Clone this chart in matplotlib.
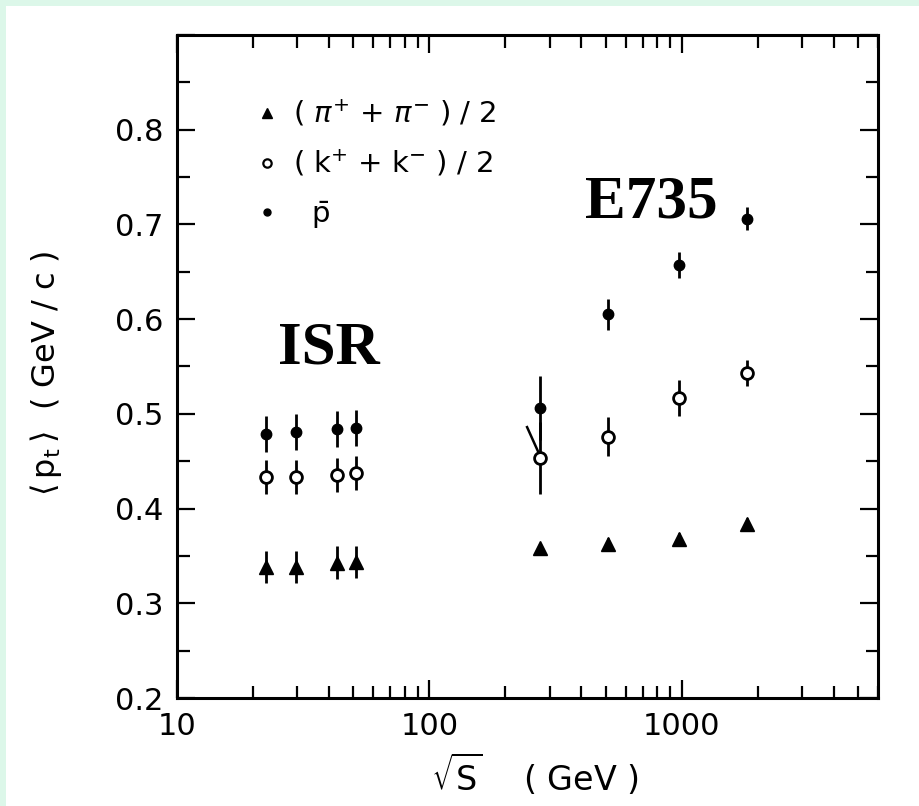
import matplotlib
matplotlib.use("Agg")
import matplotlib.pyplot as plt
from matplotlib.patches import Rectangle
from matplotlib.ticker import LogLocator, FixedLocator, NullFormatter, FixedFormatter, MultipleLocator

plt.rcParams['mathtext.fontset'] = 'dejavusans'

# sqrt(s) in GeV: ISR energies then E735 (Tevatron) energies
roots_isr = [22.5, 29.5, 43.0, 51.0]
roots_e735 = [275.0, 510.0, 975.0, 1820.0]

# <pt> in GeV/c with errors
pi_isr = [0.338, 0.338, 0.343, 0.344]
pi_isr_err = [0.017, 0.017, 0.017, 0.017]
k_isr = [0.433, 0.433, 0.435, 0.438]
k_isr_err = [0.018, 0.018, 0.018, 0.018]
pbar_isr = [0.479, 0.481, 0.484, 0.485]
pbar_isr_err = [0.019, 0.019, 0.019, 0.019]

pi_e735 = [0.358, 0.363, 0.368, 0.384]
pi_e735_err = [0.006, 0.006, 0.006, 0.006]
k_e735 = [0.453, 0.476, 0.517, 0.543]
k_e735_err = [0.038, 0.021, 0.019, 0.014]
pbar_e735 = [0.506, 0.605, 0.657, 0.706]
pbar_e735_err = [0.034, 0.016, 0.014, 0.012]

# stray slanted stroke on the 300 GeV kaon error bar
slash_x = [244.0, 270.0]
slash_y = [0.486, 0.460]

W, H = 919, 806
fig = plt.figure(figsize=(W / 100, H / 100), dpi=100, facecolor='#dcf7e9')
fig.patches.append(Rectangle((6 / W, 0), 1, 1 - 6 / H, transform=fig.transFigure,
                             facecolor='white', edgecolor='none', zorder=-10))

ax = fig.add_axes([177 / W, 1 - 698 / H, 701 / W, 663 / H])
ax.set_facecolor('white')

xs = roots_isr + roots_e735
ebkw = dict(fmt='none', ecolor='black', elinewidth=2.0, capsize=0, zorder=2)
ax.errorbar(xs, pi_isr + pi_e735, yerr=pi_isr_err + pi_e735_err, **ebkw)
ax.errorbar(xs, k_isr + k_e735, yerr=k_isr_err + k_e735_err, **ebkw)
ax.errorbar(xs, pbar_isr + pbar_e735, yerr=pbar_isr_err + pbar_e735_err, **ebkw)

ax.plot(xs, pi_isr + pi_e735, '^', color='black', ms=10, zorder=3)
ax.plot(xs, k_isr + k_e735, 'o', mfc='white', mec='black', mew=2.0, ms=8.5, zorder=3)
ax.plot(xs, pbar_isr + pbar_e735, 'o', color='black', ms=7.5, zorder=3)
ax.plot(slash_x, slash_y, color='black', lw=1.8, zorder=2)

ax.set_xscale('log')
ax.set_xlim(10, 6000)
ax.set_ylim(0.2, 0.9)

ax.xaxis.set_major_locator(FixedLocator([10, 100, 1000]))
ax.xaxis.set_major_formatter(FixedFormatter(['10', '100', '1000']))
ax.xaxis.set_minor_locator(LogLocator(base=10, subs=range(2, 10), numticks=20))
ax.xaxis.set_minor_formatter(NullFormatter())
ax.yaxis.set_major_locator(FixedLocator([0.2, 0.3, 0.4, 0.5, 0.6, 0.7, 0.8, 0.9]))
ax.yaxis.set_major_formatter(FixedFormatter(['0.2', '0.3', '0.4', '0.5', '0.6', '0.7', '0.8', '']))
ax.yaxis.set_minor_locator(MultipleLocator(0.05))

ax.tick_params(which='both', direction='in', top=True, right=True, width=1.6,
               labelsize=22, colors='black')
ax.tick_params(which='major', length=13)
ax.tick_params(which='minor', length=9)
ax.tick_params(axis='x', pad=10)
ax.tick_params(axis='y', pad=10)
for s in ax.spines.values():
    s.set_linewidth(2.2)

# legend drawn by hand
leg_rows = [0.882, 0.807, 0.733]
ax.plot(0.128, leg_rows[0], '^', color='black', ms=7, transform=ax.transAxes)
ax.plot(0.128, leg_rows[1], 'o', mfc='white', mec='black', mew=1.6, ms=6, transform=ax.transAxes)
ax.plot(0.128, leg_rows[2], 'o', color='black', ms=5, transform=ax.transAxes)
ax.text(0.165, leg_rows[0], r'( $\pi^{+}$ + $\pi^{-}$ ) / 2', fontsize=21, va='center',
        transform=ax.transAxes)
ax.text(0.165, leg_rows[1], r'( $\mathrm{k}^{+}$ + $\mathrm{k}^{-}$ ) / 2', fontsize=21, va='center',
        transform=ax.transAxes)
ax.text(0.165, leg_rows[2] - 0.005, r'  $\mathrm{\bar{p}}$', fontsize=21, va='center',
        transform=ax.transAxes)

ax.text(0.144, 0.505, 'ISR', fontsize=44, fontweight='bold', family='Liberation Serif',
        va='baseline', transform=ax.transAxes)
ax.text(0.582, 0.724, 'E735', fontsize=44, fontweight='bold', family='Liberation Serif',
        va='baseline', transform=ax.transAxes)

fig.text(46 / W, 1 - 373 / H, r'$\langle\,\mathrm{p_t}\,\rangle$  ( GeV / c )', fontsize=23,
         rotation=90, ha='center', va='center')
fig.text(535 / W, 1 - 774 / H, r'$\sqrt{\mathrm{S}}$    ( GeV )', fontsize=24,
         ha='center', va='center')

fig.savefig('out.png', dpi=100, facecolor=fig.get_facecolor())
